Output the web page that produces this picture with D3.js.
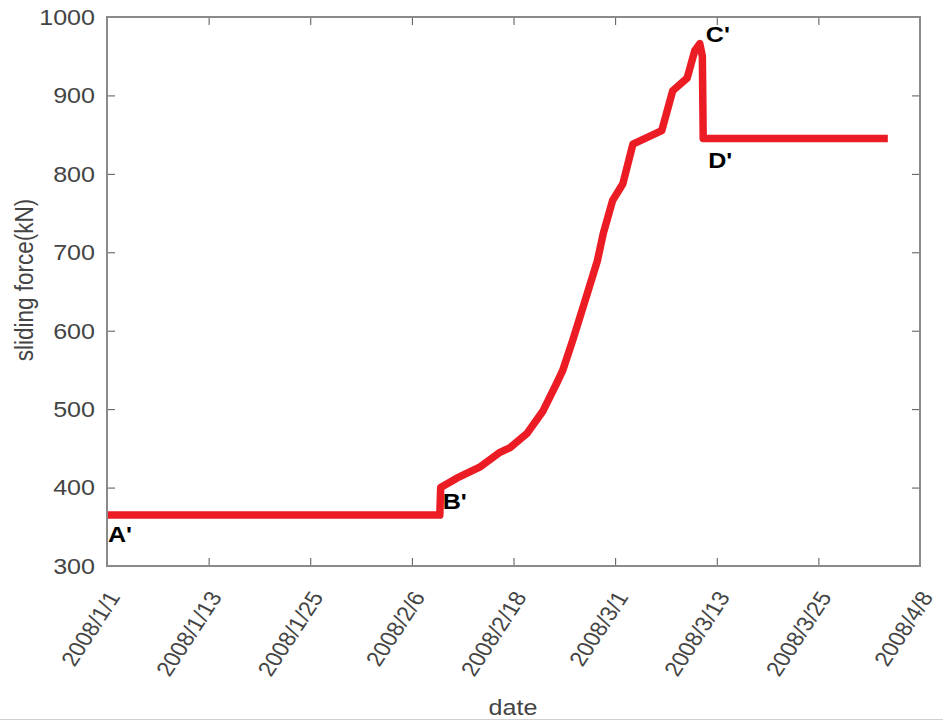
<!DOCTYPE html>
<html>
<head>
<meta charset="utf-8">
<script src="https://cdn.jsdelivr.net/npm/d3@7"></script>
<style>
  html, body { margin: 0; padding: 0; background: #fff; }
  svg { display: block; font-family: "Liberation Sans", Arial, sans-serif; }
</style>
</head>
<body>
<svg id="chart" width="943" height="722"></svg>
<script>
// ---- data ----
const tickLabels = ["2008/1/1","2008/1/13","2008/1/25","2008/2/6","2008/2/18","2008/3/1","2008/3/13","2008/3/25","2008/4/8"];
const tickDays = [0, 12, 24, 36, 48, 60, 72, 84, 96];
const yTicks = [300, 400, 500, 600, 700, 800, 900, 1000];
// days since 2008/1/1 (axis spacing) and sliding force (kN)
const days  = [0, 39.3, 39.4, 41.3, 44.0, 46.4, 47.6, 49.6, 51.5, 53.1, 53.8, 55.0, 56.7, 57.9, 58.6, 59.7, 60.9, 62.1, 65.5, 66.8, 68.5, 69.4, 70.0, 70.3, 70.4, 92.2];
const force = [365, 365, 400, 412, 426, 445, 451, 469, 498, 533, 549, 588, 647, 689, 724, 766, 787, 838, 855, 906, 922, 957, 966, 950, 845, 845];
const pointLabels = [
  {text: "A'", day: 0,    value: 365, dx: 1,  dy: 27},
  {text: "B'", day: 39.4, value: 400, dx: 2,  dy: 21},
  {text: "C'", day: 70.0, value: 966, dx: 6,  dy: -2},
  {text: "D'", day: 70.4, value: 845, dx: 5,  dy: 29}
];

// ---- layout ----
const svg = d3.select("#chart");
const L = 107, R = 920, T = 17, B = 566;
const SX = 1.14; // horizontal stretch of the reference's text
const x = d3.scaleLinear().domain([0, 96]).range([L, R]);
const y = d3.scaleLinear().domain([300, 1000]).range([B, T]);

const axisColor = "#8a8a8a";
const textColor = "#444";
const tickLen = 8;

// bottom light border line
svg.append("line").attr("x1", 0).attr("x2", 943).attr("y1", 719.5).attr("y2", 719.5)
  .attr("stroke", "#d0d0d0").attr("stroke-width", 1);

// data line
const line = d3.line().x((d, i) => x(days[i])).y((d, i) => y(force[i]));
svg.append("path").datum(force)
  .attr("d", line)
  .attr("fill", "none")
  .attr("stroke", "#ec1c24")
  .attr("stroke-width", 7.5)
  .attr("stroke-linejoin", "round")
  .attr("stroke-linecap", "butt");

// axes (inner ticks, mirrored)
const gx = svg.append("g").attr("transform", `translate(0,${B})`)
  .call(d3.axisBottom(x).tickValues(tickDays).tickSize(-tickLen).tickFormat(""));
const gxt = svg.append("g").attr("transform", `translate(0,${T})`)
  .call(d3.axisTop(x).tickValues(tickDays).tickSize(-tickLen).tickFormat(""));
const gy = svg.append("g").attr("transform", `translate(${L},0)`)
  .call(d3.axisLeft(y).tickValues(yTicks).tickSize(-tickLen).tickFormat(""));
const gyr = svg.append("g").attr("transform", `translate(${R},0)`)
  .call(d3.axisRight(y).tickValues(yTicks).tickSize(-tickLen).tickFormat(""));

[gx, gxt, gy, gyr].forEach(g => {
  g.select(".domain").remove();
  g.selectAll(".tick line").attr("stroke", "#555").attr("stroke-width", 1);
});

// y tick labels
svg.append("g").selectAll("text").data(yTicks).join("text")
  .attr("transform", d => `translate(95,${y(d)}) scale(${SX},1)`)
  .attr("text-anchor", "end")
  .attr("dy", "0.36em")
  .attr("fill", textColor)
  .attr("font-size", 22)
  .text(d => d);

// box
svg.append("rect").attr("x", L).attr("y", T).attr("width", R - L).attr("height", B - T)
  .attr("fill", "none").attr("stroke", axisColor).attr("stroke-width", 2);

// rotated x tick labels
svg.append("g").selectAll("text").data(tickDays).join("text")
  .attr("transform", d => `translate(${x(d) + 14},597) scale(${SX},1) rotate(-60)`)
  .attr("text-anchor", "end")
  .attr("fill", textColor)
  .attr("font-size", 21)
  .text((d, i) => tickLabels[i]);

// axis titles
svg.append("text").attr("transform", `translate(513,715) scale(${SX},1)`).attr("text-anchor", "middle")
  .attr("fill", textColor).attr("font-size", 22).text("date");
svg.append("text").attr("transform", `translate(33,280) scale(${SX},1) rotate(-90)`)
  .attr("text-anchor", "middle").attr("fill", textColor).attr("font-size", 22.5)
  .text("sliding force(kN)");

// point labels
svg.append("g").selectAll("text").data(pointLabels).join("text")
  .attr("transform", d => `translate(${x(d.day) + d.dx},${y(d.value) + d.dy}) scale(${SX},1)`)
  .attr("font-size", 22).attr("font-weight", "bold").attr("fill", "#000")
  .text(d => d.text);
</script>
</body>
</html>
